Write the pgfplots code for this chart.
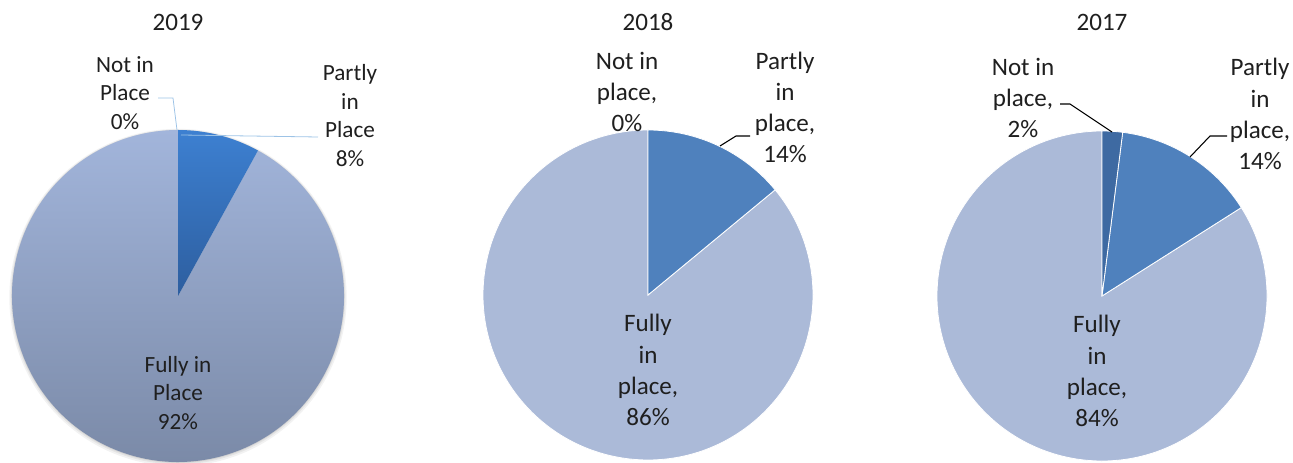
\documentclass[border=0pt]{standalone}
\usepackage{pgfplots}
\pgfplotsset{compat=1.18}
\usepackage{pgfplotstable}
\usepackage{fontspec}
\setmainfont{Carlito}
\definecolor{txt}{HTML}{1F1F1F}
\definecolor{lightA}{HTML}{A2B5DB}
\definecolor{lightB}{HTML}{7887A4}
\definecolor{blueA}{HTML}{3D80D1}
\definecolor{blueB}{HTML}{2D5E9F}
\definecolor{pfull}{HTML}{ABBAD8}
\definecolor{ppart}{HTML}{4F81BD}
\definecolor{pnot}{HTML}{3E6AA2}
\definecolor{leadA}{HTML}{9DC3E6}

\pgfplotstableread{
year notin partly fully
2019 0 8 92
2018 0 14 86
2017 2 14 84
}\piedata

\pgfplotstablegetelem{0}{notin}\of\piedata \global\let\NA\pgfplotsretval
\pgfplotstablegetelem{0}{partly}\of\piedata \global\let\PA\pgfplotsretval
\pgfplotstablegetelem{0}{fully}\of\piedata \global\let\FA\pgfplotsretval
\pgfplotstablegetelem{1}{notin}\of\piedata \global\let\NB\pgfplotsretval
\pgfplotstablegetelem{1}{partly}\of\piedata \global\let\PB\pgfplotsretval
\pgfplotstablegetelem{1}{fully}\of\piedata \global\let\FB\pgfplotsretval
\pgfplotstablegetelem{2}{notin}\of\piedata \global\let\NC\pgfplotsretval
\pgfplotstablegetelem{2}{partly}\of\piedata \global\let\PC\pgfplotsretval
\pgfplotstablegetelem{2}{fully}\of\piedata \global\let\FC\pgfplotsretval

% cx cy R(pt) start(%) value(%) style
\newcommand\pieslice[6]{%
  \ifdim#5pt>0pt
  \path[#6] (axis cs:#1,#2) -- ++({90-3.6*(#4)}:#3pt)
     arc[start angle={90-3.6*(#4)}, end angle={90-3.6*(#4+#5)}, radius=#3pt] -- cycle;
  \fi}

\begin{document}%
\begin{tikzpicture}
\begin{axis}[width=969.75pt,height=347.25pt,scale only axis,
  xmin=0,xmax=1293,ymin=0,ymax=463,hide axis,clip=false]
% ---- 2019 soft shadow
\fill[black,opacity=0.05] (axis cs:178,165.5) circle[radius=126.5pt];
\fill[black,opacity=0.06] (axis cs:178,166) circle[radius=125.5pt];
\fill[black,opacity=0.08] (axis cs:178,166.5) circle[radius=124.8pt];
% ---- 2019
\pieslice{178}{167}{124.5}{\NA+\PA}{\FA}{top color=lightA,bottom color=lightB}
\pieslice{178}{167}{124.5}{\NA}{\PA}{top color=blueA,bottom color=blueB}
\pieslice{178}{167}{124.5}{0}{\NA}{fill=blueB}
% ---- 2018
\pieslice{648}{168}{123.75}{\NB+\PB}{\FB}{fill=pfull,draw=white,line width=0.6pt}
\pieslice{648}{168}{123.75}{\NB}{\PB}{fill=ppart,draw=white,line width=0.6pt}
\pieslice{648}{168}{123.75}{0}{\NB}{fill=pnot,draw=white,line width=0.6pt}
% ---- 2017
\pieslice{1102}{167}{123.75}{\NC+\PC}{\FC}{fill=pfull,draw=white,line width=0.6pt}
\pieslice{1102}{167}{123.75}{\NC}{\PC}{fill=ppart,draw=white,line width=0.6pt}
\pieslice{1102}{167}{123.75}{0}{\NC}{fill=pnot,draw=white,line width=0.6pt}

% leader lines
\draw[leadA,line width=0.6pt] (axis cs:177,333) -- (axis cs:173,365) -- (axis cs:158,365);
\draw[leadA,line width=0.6pt] (axis cs:181,328) -- (axis cs:318,326);
\draw[black,line width=0.8pt] (axis cs:720,317) -- (axis cs:736,327) -- (axis cs:750,327);
\draw[black,line width=0.8pt] (axis cs:1112,331) -- (axis cs:1070,359) -- (axis cs:1060,359);
\draw[black,line width=0.8pt] (axis cs:1190,306) -- (axis cs:1210,327) -- (axis cs:1227,327);

% titles
\node[txt,font=\fontsize{18.8pt}{23pt}\selectfont] at (axis cs:178,441) {2019};
\node[txt,font=\fontsize{18.8pt}{23pt}\selectfont] at (axis cs:648,441) {2018};
\node[txt,font=\fontsize{18.8pt}{23pt}\selectfont] at (axis cs:1102,441) {2017};

% labels
\tikzset{labA/.style={txt,align=center,inner sep=0pt,font=\fontsize{17.4pt}{21.4pt}\selectfont},
         labB/.style={txt,align=center,inner sep=0pt,font=\fontsize{18.8pt}{23.3pt}\selectfont}}
\node[labA] at (axis cs:125,370) {Not in\\Place\\\NA\%};
\node[labA] at (axis cs:350,347.5) {Partly\\in\\Place\\\PA\%};
\node[labA] at (axis cs:178,70) {Fully in\\Place\\\FA\%};
\node[labB] at (axis cs:627,371) {Not in\\place,\\\NB\%};
\node[labB] at (axis cs:785,355.5) {Partly\\in\\place,\\\PB\%};
\node[labB] at (axis cs:648,93) {Fully\\in\\place,\\\FB\%};
\node[labB] at (axis cs:1023,365) {Not in\\place,\\\NC\%};
\node[labB] at (axis cs:1260,349) {Partly\\in\\place,\\\PC\%};
\node[labB] at (axis cs:1097,92) {Fully\\in\\place,\\\FC\%};
\end{axis}
\pgfresetboundingbox
\path[use as bounding box] (current axis.south west) rectangle (current axis.north east);
\end{tikzpicture}%
\end{document}
